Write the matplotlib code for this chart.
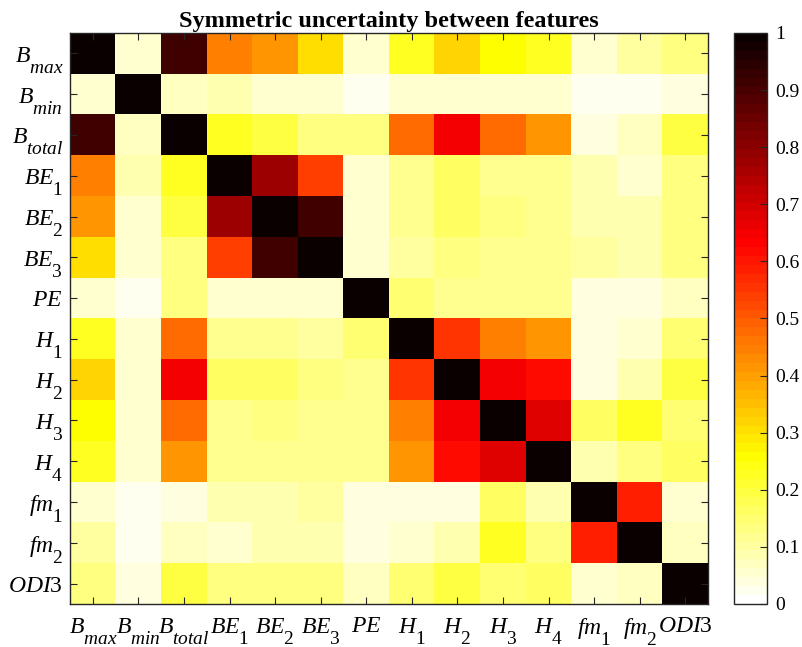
import numpy as np
import matplotlib
matplotlib.use("Agg")
import matplotlib.pyplot as plt
import matplotlib._mathtext as mathtext_internal
from matplotlib.colors import ListedColormap

plt.rcParams['font.family'] = 'Liberation Serif'
plt.rcParams['mathtext.fontset'] = 'custom'
plt.rcParams['mathtext.rm'] = 'Liberation Serif'
plt.rcParams['mathtext.it'] = 'Liberation Serif:italic'
plt.rcParams['mathtext.bf'] = 'Liberation Serif:bold'

# matlab tex subscripts are bigger and sit lower than mathtext's default
mathtext_internal.SHRINK_FACTOR = 0.82
mathtext_internal.FontConstantsBase.sub1 = 1.0
mathtext_internal.FontConstantsBase.script_space = 0.12

features = [r'$B_{max}$', r'$B_{min}$', r'$B_{total}$', r'$BE_1$', r'$BE_2$', r'$BE_3$',
            r'$PE$', r'$H_1$', r'$H_2$', r'$H_3$', r'$H_4$', r'$fm_1$', r'$fm_2$', r'$ODI3$']

# symmetric uncertainty, read row by row
su = [
    [1.00, 0.06, 0.92, 0.45, 0.41, 0.30, 0.06, 0.22, 0.32, 0.25, 0.22, 0.05, 0.10, 0.14],
    [0.06, 1.00, 0.07, 0.08, 0.05, 0.05, 0.03, 0.05, 0.05, 0.05, 0.05, 0.03, 0.03, 0.04],
    [0.92, 0.07, 1.00, 0.22, 0.20, 0.14, 0.14, 0.47, 0.65, 0.47, 0.41, 0.04, 0.07, 0.20],
    [0.45, 0.08, 0.22, 1.00, 0.77, 0.54, 0.05, 0.12, 0.16, 0.12, 0.12, 0.09, 0.06, 0.14],
    [0.41, 0.05, 0.20, 0.77, 1.00, 0.91, 0.06, 0.12, 0.17, 0.14, 0.12, 0.09, 0.08, 0.13],
    [0.30, 0.05, 0.14, 0.54, 0.91, 1.00, 0.06, 0.10, 0.14, 0.11, 0.11, 0.10, 0.08, 0.13],
    [0.06, 0.03, 0.14, 0.05, 0.06, 0.06, 1.00, 0.15, 0.12, 0.11, 0.11, 0.04, 0.04, 0.07],
    [0.22, 0.05, 0.47, 0.12, 0.12, 0.10, 0.15, 1.00, 0.55, 0.44, 0.42, 0.04, 0.05, 0.15],
    [0.32, 0.05, 0.65, 0.16, 0.17, 0.14, 0.12, 0.55, 1.00, 0.65, 0.62, 0.04, 0.08, 0.19],
    [0.25, 0.05, 0.47, 0.12, 0.14, 0.11, 0.11, 0.44, 0.65, 1.00, 0.68, 0.17, 0.22, 0.15],
    [0.22, 0.05, 0.41, 0.12, 0.12, 0.11, 0.11, 0.42, 0.62, 0.68, 1.00, 0.08, 0.14, 0.17],
    [0.05, 0.03, 0.04, 0.09, 0.09, 0.10, 0.04, 0.04, 0.04, 0.17, 0.08, 1.00, 0.58, 0.05],
    [0.10, 0.03, 0.07, 0.06, 0.08, 0.08, 0.04, 0.05, 0.08, 0.22, 0.14, 0.58, 1.00, 0.07],
    [0.14, 0.04, 0.20, 0.14, 0.13, 0.13, 0.07, 0.15, 0.19, 0.15, 0.17, 0.05, 0.07, 1.00],
]

cbar_ticks = [0, 0.1, 0.2, 0.3, 0.4, 0.5, 0.6, 0.7, 0.8, 0.9, 1]
cbar_labels = ['0', '0.1', '0.2', '0.3', '0.4', '0.5', '0.6', '0.7', '0.8', '0.9', '1']

# matlab-ish flipud(hot(64))
cmap = ListedColormap(plt.get_cmap('hot_r')(np.linspace(0, 1, 64)))

fig = plt.figure(figsize=(8.03, 6.47), dpi=100)
ax = fig.add_axes([0.0872, 0.0665, 0.7945, 0.8825])
cax = fig.add_axes([0.914, 0.0665, 0.041, 0.8825])

im = ax.imshow(np.array(su), cmap=cmap, vmin=0, vmax=1, aspect='auto', interpolation='nearest')

n = len(features)
ax.set_xticks(range(n))
ax.set_yticks(range(n))
ax.set_xticklabels(features, fontsize=17)
ax.set_yticklabels(features, fontsize=17)
ax.tick_params(direction='in', top=True, right=True, length=5, width=0.8,
               color='#262626')
ax.tick_params(axis='x', pad=8.5)
ax.tick_params(axis='y', pad=5)
for s in ax.spines.values():
    s.set_color('#262626')
    s.set_linewidth(1.0)

ax.set_title('Symmetric uncertainty between features', fontsize=17.5,
             fontweight='bold', pad=4.5)

cb = fig.colorbar(im, cax=cax)
cb.set_ticks(cbar_ticks)
cb.set_ticklabels(cbar_labels)
cb.ax.tick_params(direction='in', length=5, width=0.8, color='#262626',
                  labelsize=14, pad=6)
cb.outline.set_edgecolor('#262626')
cb.outline.set_linewidth(1.0)

fig.savefig('out.png', dpi=100)
